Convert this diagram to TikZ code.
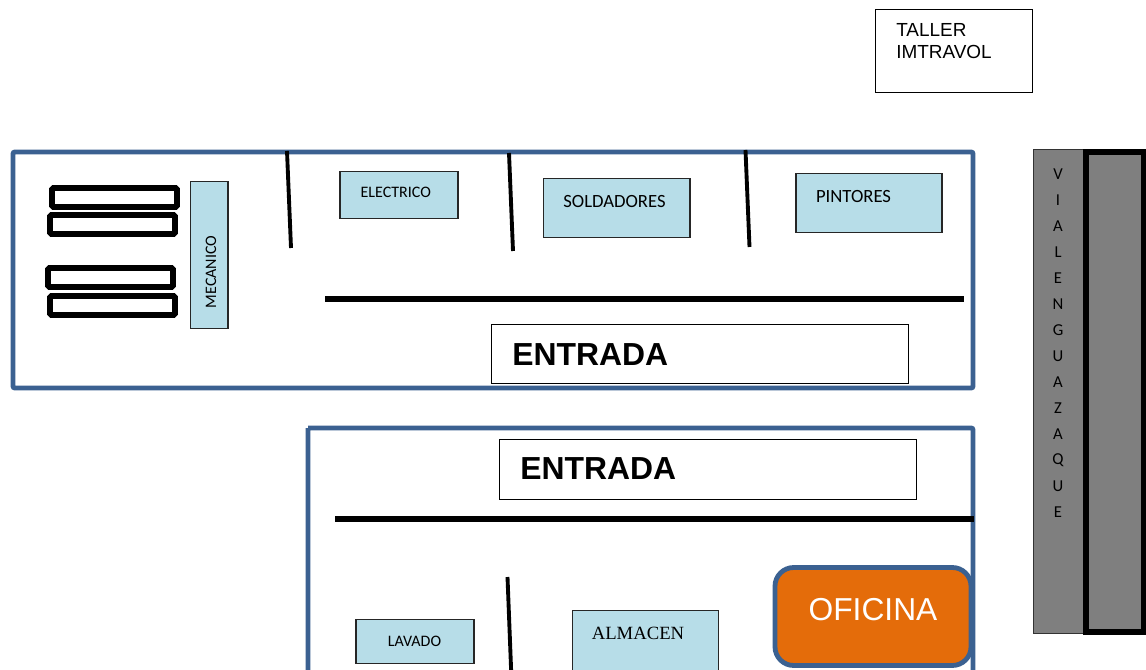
\documentclass[tikz,border=0pt]{standalone}
\usepackage{fontspec}
\setmainfont{Liberation Sans}
\newfontfamily\calfont{Carlito}
\newfontfamily\serfont{Liberation Serif}
\definecolor{wallblue}{HTML}{3B6191}
\definecolor{roomblue}{HTML}{B7DDE8}
\definecolor{roadgray}{HTML}{7F7F7F}
\definecolor{officeorange}{HTML}{E46C0A}
\newcommand{\pxlen}{0.75pt}
\tikzset{
  sz/.style n args={2}{minimum width=#1*\pxlen,minimum height=#2*\pxlen,inner sep=0pt,outer sep=0pt},
  wall/.style={draw=wallblue,line width=3.7pt,rounded corners=1.5pt},
  room/.style={draw=black!85,fill=roomblue,line width=0.85pt},
  plainbox/.style={draw=black,fill=white,line width=0.75pt},
  bench/.style={draw=black,fill=white,line width=4.2pt,rounded corners=1pt},
  divider/.style={draw=black,line width=2.9pt},
  bar/.style={draw=black,line width=4pt},
  roomlabel/.style={inner sep=0pt},
  entrada/.style={inner sep=0pt,font=\bfseries\fontsize{23.9}{28}\selectfont},
}
\begin{document}
\begin{tikzpicture}[x=0.75pt,y=-0.75pt]
\useasboundingbox (0,0) rectangle (1146,670);
\clip (0,0) rectangle (1146,670);
% title box
\node[plainbox,sz={157}{83},anchor=north west] (taller) at (875.7,10) {};
\node[anchor=north west,inner sep=0pt,align=left,font=\fontsize{14.2}{16.5}\selectfont] (tallertxt) at (896,23.5) {TALLER\\IMTRAVOL};
% walls
\draw[wall] (13,152) rectangle (973,388);
\draw[wall] (308,428) -- (973,428) -- (973,690) (308,428) -- (308,690);
% benches
\node[bench,sz={125}{19},anchor=north west] (b1) at (52,188) {};
\node[bench,sz={125}{19},anchor=north west] (b2) at (50,215) {};
\node[bench,sz={125}{19},anchor=north west] (b3) at (48,268) {};
\node[bench,sz={125}{19},anchor=north west] (b4) at (50,296) {};
% mecanico
\node[room,sz={37.6}{147},anchor=north west] (mec) at (190.4,181.5) {};
\node[roomlabel,rotate=90,font=\calfont\fontsize{12}{14}\selectfont] (mectxt) at (211,272) {MECANICO};
% dividers
\coordinate (d1a) at (287,151); \coordinate (d1b) at (291,248);
\coordinate (d2a) at (509,153); \coordinate (d2b) at (513,251);
\coordinate (d3a) at (745.5,150); \coordinate (d3b) at (749.5,247);
\coordinate (d4a) at (507.5,577); \coordinate (d4b) at (511.5,680);
\draw[divider] (d1a) -- (d1b);
\draw[divider] (d2a) -- (d2b);
\draw[divider] (d3a) -- (d3b);
\draw[divider] (d4a) -- (d4b);
% rooms upper
\node[room,sz={118}{47},anchor=north west] (ele) at (340,171.5) {};
\node[roomlabel,font=\calfont\fontsize{12}{14}\selectfont] (eletxt) at (395.8,192) {ELECTRICO};
\node[room,sz={146.6}{59},anchor=north west] (sol) at (543.4,178.5) {};
\node[roomlabel,font=\calfont\fontsize{14}{16}\selectfont] (soltxt) at (614.5,201.5) {SOLDADORES};
\node[room,sz={146}{59},anchor=north west] (pin) at (796,173.3) {};
\node[roomlabel,font=\calfont\fontsize{14}{16}\selectfont] (pintxt) at (853.5,196.5) {PINTORES};
% horizontal bars
\coordinate (h1a) at (325,299); \coordinate (h1b) at (964,299);
\coordinate (h2a) at (335,519); \coordinate (h2b) at (974,519);
\draw[bar] (h1a) -- (h1b);
\draw[bar] (h2a) -- (h2b);
% entrada
\node[plainbox,sz={417}{58},anchor=north west] (ent1) at (491,325) {};
\node[entrada,anchor=west] (ent1txt) at (512,355) {ENTRADA};
\node[plainbox,sz={417}{60},anchor=north west] (ent2) at (499,439.5) {};
\node[entrada,anchor=west] (ent2txt) at (520,469) {ENTRADA};
% lower rooms
\node[room,sz={118}{44},anchor=north west] (lav) at (356,619.8) {};
\node[roomlabel,font=\calfont\fontsize{12}{14}\selectfont] (lavtxt) at (414.5,641.8) {LAVADO};
\node[room,sz={146}{70},anchor=north west] (alm) at (572.3,610.7) {};
\node[inner sep=0pt,font=\serfont\fontsize{14}{16}\selectfont] (almtxt) at (638,633) {ALMACEN};
% oficina
\node[draw=wallblue,fill=officeorange,line width=3.6pt,rounded corners=14pt,sz={196}{98},anchor=north west] (ofi) at (775,567.5) {};
\node[inner sep=0pt,text=white,font=\fontsize{23.8}{28}\selectfont] (ofitxt) at (873,609.5) {OFICINA};
% road
\node[draw=black!80,fill=roadgray,line width=0.75pt,sz={52}{484},anchor=north west] (via) at (1033.3,149.5) {};
\node[draw=black,fill=roadgray,line width=3.8pt,sz={58}{480},anchor=north west] (via2) at (1086,152) {};
\foreach \ch [count=\i from 0] in {V,I,A,L,E,N,G,U,A,Z,A,Q,U,E}
  \node[inner sep=0pt,font=\calfont\fontsize{12.5}{14}\selectfont] (v\i) at (1058,174+26.05*\i) {\ch};
\end{tikzpicture}
\end{document}
